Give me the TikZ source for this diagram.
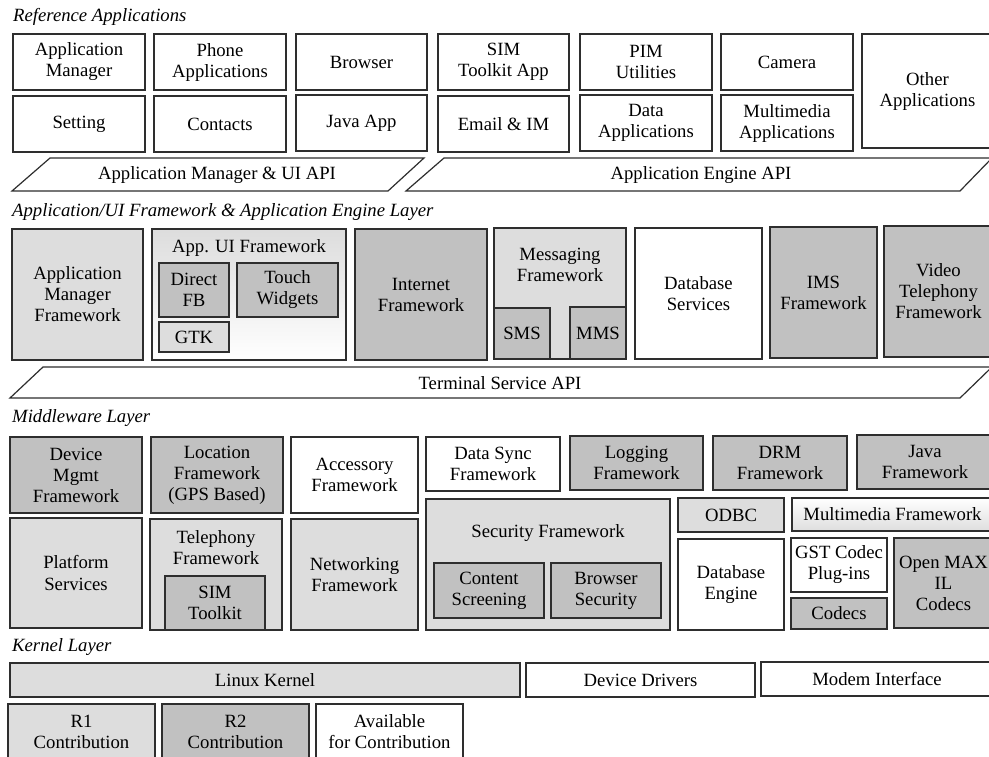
\documentclass[tikz,border=0pt]{standalone}
\usepackage{fontspec}
\setmainfont{Liberation Serif}
\definecolor{palegray}{gray}{0.865}
\definecolor{deepgray}{gray}{0.755}
\definecolor{edgegray}{gray}{0.18}

% one labelled block: name, x1, y1, x2, y2, fill style, text
\newcommand{\archbox}[7]{%
  \node[blk,#6,minimum width={(#4-#2)*1pt},minimum height={(#5-#3)*1pt}]
    (#1) at ({(#2+#4)/2},{(#3+#5)/2}) {#7};}

\begin{document}
\begin{tikzpicture}[x=1pt,y=-1pt,
  txt/.style={font=\fontsize{18.7}{21}\selectfont},
  blk/.style={txt,draw=edgegray,line width=1.2pt,inner sep=0pt,outer sep=0pt,align=center},
  whitebox/.style={fill=white},
  palebox/.style={fill=palegray},
  deepbox/.style={fill=deepgray},
  fadedown/.style={top color=palegray,bottom color=white},
  fadeup/.style={top color=white,bottom color=black!13},
  caption/.style={txt,align=center,inner sep=0pt},
  layertitle/.style={font=\fontsize{18.7}{21}\selectfont\itshape,anchor=west,inner sep=0pt},
  apibar/.style={draw=edgegray,line width=1.2pt,fill=white,line join=miter}
]
\useasboundingbox (0,0) rectangle (989,756);
\fill[white] (0,0) rectangle (989,756);
\clip (0,0) rectangle (989,756);

% ---------------- Reference applications ----------------
\node[layertitle] (ttlref) at (13,17) {Reference Applications};
\archbox{appmgr}{13}{34}{145}{90}{whitebox}{Application\\Manager}
\archbox{phone}{154}{34}{286}{90}{whitebox}{Phone\\Applications}
\archbox{browser}{296}{34}{427}{90}{whitebox}{Browser}
\archbox{simapp}{438}{34}{569}{90}{whitebox}{SIM\\Toolkit App}
\archbox{pim}{580}{34}{712}{90}{whitebox}{PIM\\Utilities}
\archbox{camera}{721}{34}{853}{90}{whitebox}{Camera}
\archbox{otherapps}{862}{34}{993}{148}{whitebox}{Other\\Applications}
\archbox{setting}{13}{96}{145}{152}{whitebox}{Setting}
\archbox{contacts}{154}{96}{286}{152}{whitebox}{Contacts}
\archbox{javaapp}{296}{95}{427}{151}{whitebox}{Java App}
\archbox{email}{438}{96}{569}{152}{whitebox}{Email \& IM}
\archbox{dataapps}{580}{95}{712}{151}{whitebox}{Data\\Applications}
\archbox{mmapps}{721}{95}{853}{151}{whitebox}{Multimedia\\Applications}

% API bars
\draw[apibar] (12,191) -- (50,158) -- (424,158) -- (388,191) -- cycle;
\node[caption] (apimgr) at (217,175) {Application Manager \& UI API};
\draw[apibar] (406,191) -- (444,158) -- (992,158) -- (960,191) -- cycle;
\node[caption] (apieng) at (701,175) {Application Engine API};

% ---------------- Application/UI framework & engine layer ----------------
\node[layertitle] (ttlfw) at (12,212) {Application/UI Framework \& Application Engine Layer};
\archbox{amfw}{12}{229}{143}{360}{palebox}{Application\\Manager\\Framework}
\archbox{appui}{152}{229}{346}{360}{fadedown}{}
\node[caption] (appuittl) at (249,248) {App. UI Framework};
\archbox{directfb}{159}{263}{229}{317}{deepbox}{Direct\\FB}
\archbox{touch}{237}{263}{338}{317}{deepbox}{Touch\\Widgets}
\archbox{gtk}{159}{322}{229}{352}{palebox}{GTK}
\archbox{internet}{355}{229}{487}{360}{deepbox}{Internet\\Framework}
\archbox{msgfw}{494}{228}{626}{359}{palebox}{}
\node[caption] (msgttl) at (560,265) {Messaging\\Framework};
\archbox{sms}{494}{308}{550}{359}{deepbox}{SMS}
\archbox{mms}{570}{307}{626}{359}{deepbox}{MMS}
\archbox{dbsvc}{635}{228}{762}{359}{whitebox}{Database\\Services}
\archbox{ims}{770}{227}{877}{358}{deepbox}{IMS\\Framework}
\archbox{vtel}{884}{226}{993}{357}{deepbox}{Video\\Telephony\\Framework}

% Terminal service bar
\draw[apibar] (10,398) -- (43,367) -- (992,367) -- (960,398) -- cycle;
\node[caption] (apiterm) at (500,383) {Terminal Service API};

% ---------------- Middleware layer ----------------
\node[layertitle] (ttlmid) at (12,418) {Middleware Layer};
\archbox{devmgmt}{10}{437}{142}{513}{deepbox}{Device\\Mgmt\\Framework}
\archbox{location}{151}{437}{283}{513}{deepbox}{Location\\Framework\\(GPS Based)}
\archbox{accessory}{291}{437}{418}{513}{whitebox}{Accessory\\Framework}
\archbox{datasync}{426}{437}{560}{491}{whitebox}{Data Sync\\Framework}
\archbox{logging}{570}{436}{703}{490}{deepbox}{Logging\\Framework}
\archbox{drm}{713}{436}{847}{490}{deepbox}{DRM\\Framework}
\archbox{javafw}{857}{435}{993}{489}{deepbox}{Java\\Framework}

\archbox{platform}{10}{518}{142}{628}{palebox}{Platform\\Services}
\archbox{telephony}{150}{519}{282}{630}{palebox}{}
\node[caption] (telttl) at (216,548) {Telephony\\Framework};
\archbox{simtk}{165}{576}{265}{630}{deepbox}{SIM\\Toolkit}
\archbox{networking}{291}{519}{418}{630}{palebox}{Networking\\Framework}
\archbox{security}{426}{499}{670}{630}{palebox}{}
\node[caption] (secttl) at (548,533) {Security Framework};
\archbox{content}{434}{563}{544}{618}{deepbox}{Content\\Screening}
\archbox{browsersec}{551}{563}{661}{618}{deepbox}{Browser\\Security}
\archbox{odbc}{678}{498}{784}{532}{palebox}{ODBC}
\archbox{dbengine}{678}{539}{784}{630}{whitebox}{Database\\Engine}
\archbox{mmfw}{792}{498}{993}{531}{fadeup}{Multimedia Framework}
\archbox{gstcodec}{791}{538}{887}{592}{whitebox}{GST Codec\\Plug-ins}
\archbox{codecs}{791}{598}{887}{629}{deepbox}{Codecs}
\archbox{openmax}{894}{538}{993}{628}{deepbox}{Open MAX\\IL\\Codecs}

% ---------------- Kernel layer ----------------
\node[layertitle] (ttlker) at (12,647) {Kernel Layer};
\archbox{linux}{10}{663}{520}{697}{palebox}{Linux Kernel}
\archbox{drivers}{526}{663}{755}{697}{whitebox}{Device Drivers}
\archbox{modem}{761}{662}{993}{696}{whitebox}{Modem Interface}
\archbox{rone}{8}{704}{155}{759}{palebox}{R1\\Contribution}
\archbox{rtwo}{162}{704}{309}{759}{deepbox}{R2\\Contribution}
\archbox{avail}{316}{704}{463}{759}{whitebox}{Available\\for Contribution}
\end{tikzpicture}
\end{document}
